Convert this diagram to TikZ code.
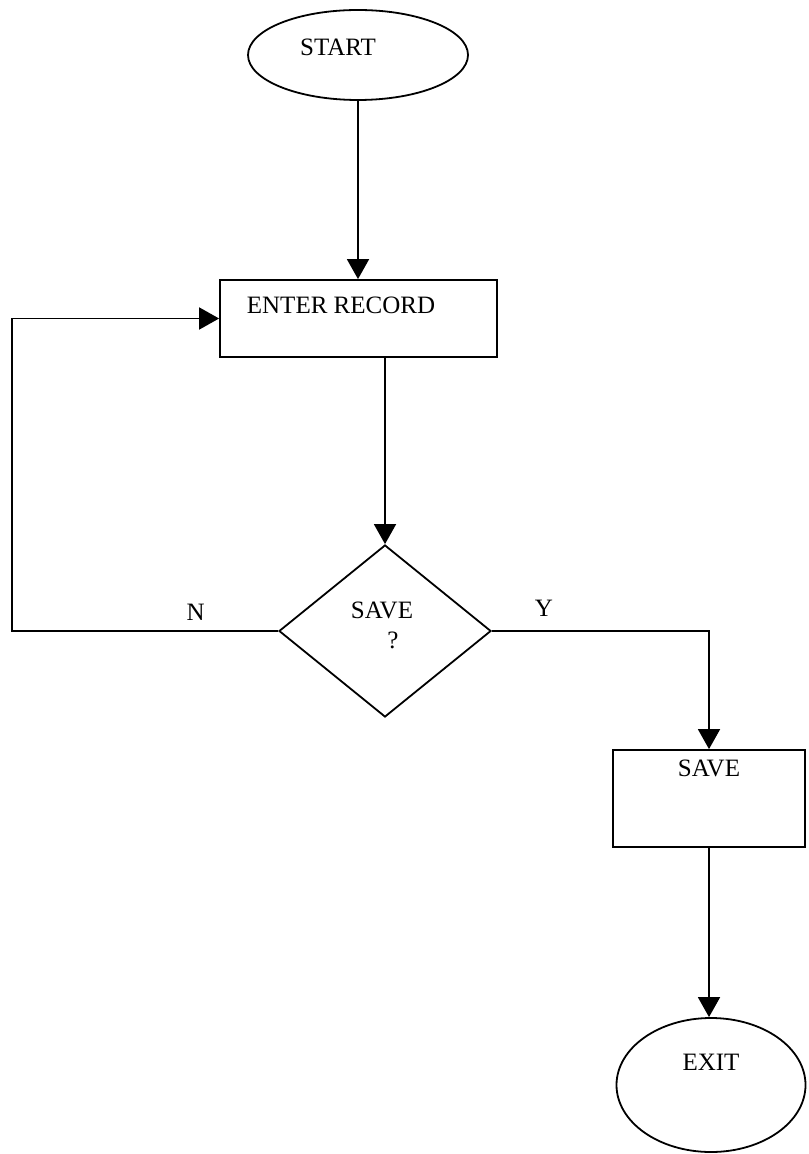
\documentclass[tikz,border=0pt]{standalone}
\usepackage{fontspec}
\setmainfont{Liberation Serif}
\usetikzlibrary{arrows.meta, shapes.geometric, calc}

\begin{document}
\begin{tikzpicture}[
    x=0.5pt, y=-0.5pt,
    line width=0.9pt,
    font=\fontsize{12.5}{15}\selectfont,
    term/.style={draw, ellipse, inner sep=0pt},
    box/.style={draw, rectangle, inner sep=0pt},
    decision/.style={draw, diamond, inner sep=0pt},
    flow/.style={-{Triangle[length=10pt, width=11pt]}},
    lbl/.style={inner sep=0pt},
]
    \useasboundingbox (0,0) rectangle (808,1154);

    % Steps
    \node[term, minimum width=110pt, minimum height=45pt,
          label={[xshift=-10pt, yshift=4pt]center:START}] (start) at (358,55) {};
    \node[box, minimum width=138.5pt, minimum height=38.5pt,
          label={[xshift=-8.75pt, yshift=6.75pt]center:ENTER RECORD}] (rec) at (358.5,318.5) {};
    \node[decision, minimum width=106pt, minimum height=86pt,
          label={[align=center, xshift=-1.5pt, yshift=2.75pt]center:SAVE\\\hspace*{11pt}?}] (dia) at (385,631) {};
    \node[box, minimum width=96pt, minimum height=48.5pt,
          label={[yshift=15.25pt]center:SAVE}] (sv) at (709,798.5) {};
    \node[term, minimum width=94.5pt, minimum height=67pt,
          label={[yshift=11.5pt]center:EXIT}] (exit) at (711,1085) {};

    % Flow arrows
    \coordinate (back) at (12,0);
    \draw[flow] (start.south) -- (start.south |- rec.north);
    \draw[flow] (dia.north |- rec.south) -- (dia.north);
    \draw[flow] (dia.west) -- node[lbl, above=5pt, pos=0.31] {N}
        (dia.west -| back) |- (rec.west);
    \draw[flow] (dia.east) -- node[lbl, above=7pt, pos=0.24] {Y}
        (dia.east -| sv.north) -- (sv.north);
    \draw[flow] (sv.south) -- (sv.south |- exit.north);
\end{tikzpicture}
\end{document}
